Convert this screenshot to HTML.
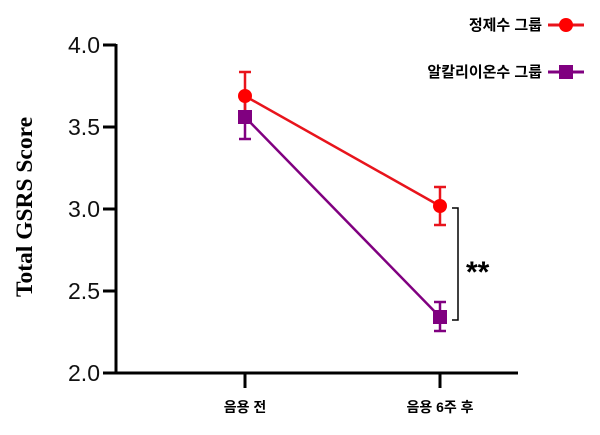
<!DOCTYPE html>
<html><head><meta charset="utf-8"><style>body{margin:0;background:#fff}</style></head><body>
<svg width="600" height="430" xmlns="http://www.w3.org/2000/svg" font-family="Liberation Sans, Noto Sans CJK KR, sans-serif">
<rect width="600" height="430" fill="#fff"/>
<g stroke="#000" stroke-width="3" fill="none">
<path d="M116 44 V373 H518"/>
<path d="M103 45 H116 M103 127 H116 M103 209 H116 M103 291 H116 M103 373 H116"/>
<path d="M245 373 V388 M440 373 V388"/>
</g>
<g font-size="23" text-anchor="end" fill="#111">
<text x="100" y="53">4.0</text><text x="100" y="135">3.5</text><text x="100" y="217">3.0</text><text x="100" y="299">2.5</text><text x="100" y="381">2.0</text>
</g>
<text transform="translate(32,207) rotate(-90)" text-anchor="middle" font-family="Liberation Serif, serif" font-weight="bold" font-size="23" textLength="180" lengthAdjust="spacingAndGlyphs">Total GSRS Score</text>
<g font-size="14" font-weight="bold" text-anchor="middle"><text x="245" y="412">음용 전</text><text x="440" y="412">음용 6주 후</text></g>
<g stroke="#800080" stroke-width="2.5" fill="none">
<path d="M245 117 L440 317"/>
<path d="M245 100 V139 M239 139 H251 M440 302 V331 M434 302 H446 M434 331 H446"/>
</g>
<rect x="238" y="110" width="14" height="14" fill="#800080"/>
<rect x="433" y="310" width="14" height="14" fill="#800080"/>
<g stroke="#e8141c" stroke-width="2.5" fill="none">
<path d="M245 96 L440 206"/>
<path d="M245 72 V110 M239 72 H251 M440 187 V225 M434 187 H446 M434 225 H446"/>
</g>
<circle cx="245" cy="96" r="7" fill="#f00"/>
<circle cx="440" cy="206" r="7" fill="#f00"/>
<path d="M452 208 H458 V320 H452" stroke="#000" stroke-width="1.5" fill="none"/>
<text x="466" y="282" font-size="30" font-weight="bold">**</text>
<g font-size="15" font-weight="bold" text-anchor="end"><text x="542" y="30">정제수 그룹</text><text x="542" y="77">알칼리이온수 그룹</text></g>
<path d="M548 25 H584" stroke="#e8141c" stroke-width="3"/><circle cx="566" cy="25" r="7" fill="#f00"/>
<path d="M548 72 H584" stroke="#800080" stroke-width="3"/><rect x="559" y="65" width="14" height="14" fill="#800080"/>
</svg>
</body></html>
